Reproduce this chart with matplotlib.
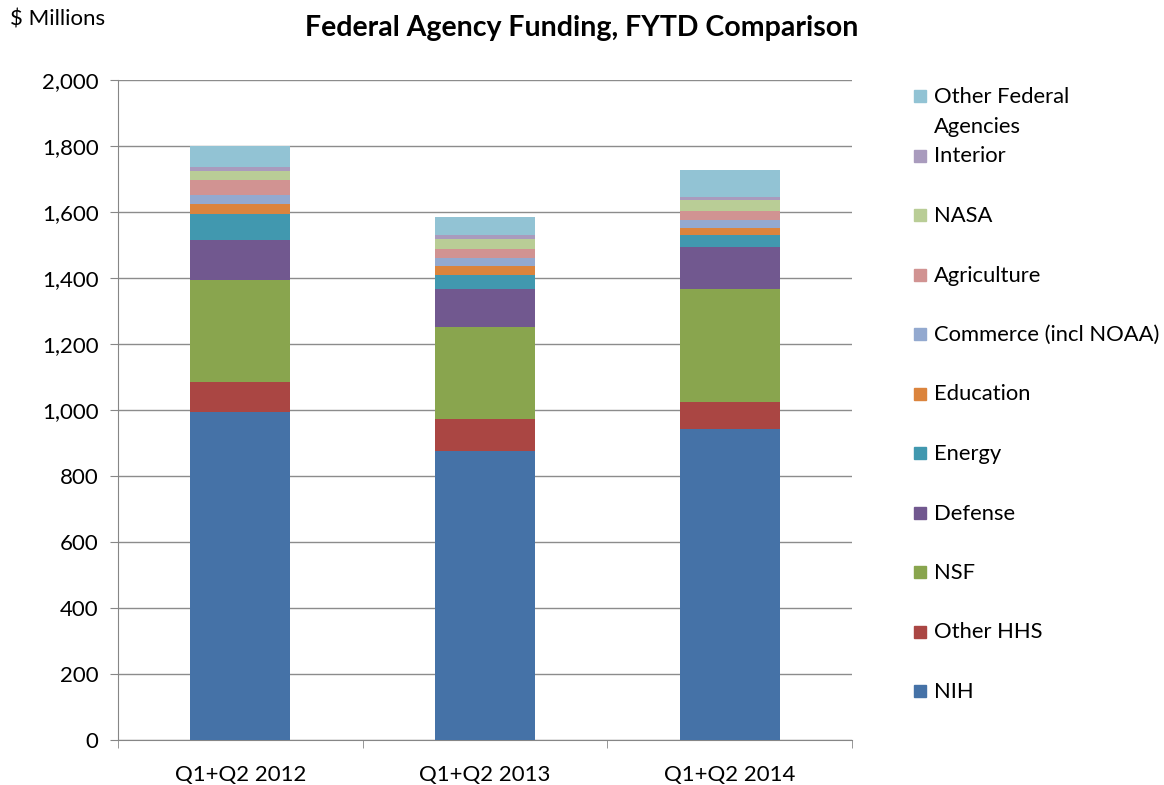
import matplotlib
matplotlib.use('Agg')
import matplotlib.pyplot as plt
from matplotlib.patches import Rectangle
import numpy as np

plt.rcParams['font.family'] = ['Lato', 'DejaVu Sans']

categories = ['Q1+Q2 2012', 'Q1+Q2 2013', 'Q1+Q2 2014']
agencies = ['NIH', 'Other HHS', 'NSF', 'Defense', 'Energy', 'Education',
            'Commerce (incl NOAA)', 'Agriculture', 'NASA', 'Interior',
            'Other Federal\nAgencies']
nih = [995, 876, 942]
other_hhs = [90, 97, 82]
nsf = [308, 280, 342]
defense = [121, 113, 127]
energy = [79, 43, 37]
education = [31, 28, 22]
commerce = [27, 23, 23]
agriculture = [47, 28, 27]
nasa = [26, 30, 33]
interior = [13, 13, 10]
other_fed = [63, 53, 81]
series = [nih, other_hhs, nsf, defense, energy, education, commerce,
          agriculture, nasa, interior, other_fed]
colors = ['#4572A7', '#AA4643', '#89A54E', '#71588F', '#4198AF', '#DB843D',
          '#93A9CF', '#D19392', '#B9CD96', '#A99BBD', '#92C3D4']

fig = plt.figure(figsize=(11.64, 7.85), dpi=100)
W, H = 1164, 785
ax = fig.add_axes([118 / W, 1 - 740 / H, (852 - 118) / W, (740 - 80) / H])

x = np.arange(len(categories))
bottom = np.zeros(len(categories))
for vals, col in zip(series, colors):
    ax.bar(x, vals, width=0.41, bottom=bottom, color=col, zorder=3)
    bottom += np.array(vals)

ax.set_xlim(-0.5, 2.5)
ax.set_ylim(0, 2000)
ax.set_yticks(range(0, 2001, 200))
ax.set_yticklabels(['{:,}'.format(v) for v in range(0, 2001, 200)])
ax.set_xticks(x)
ax.set_xticklabels(categories)
ax.set_xticks([-0.5, 0.5, 1.5, 2.5], minor=True)
ax.tick_params(axis='x', which='major', length=0, pad=18, labelsize=16)
ax.tick_params(axis='x', which='minor', length=6, color='#868686', direction='out')
ax.tick_params(axis='y', length=6, color='#868686', labelsize=16, pad=8)
ax.grid(axis='y', color='#8c8c8c', linewidth=1, zorder=0)
for s in ['top', 'right']:
    ax.spines[s].set_visible(False)
for s in ['left', 'bottom']:
    ax.spines[s].set_color('#868686')

fig.text(582 / W, 1 - 28 / H, 'Federal Agency Funding, FYTD Comparison',
         ha='center', va='center', fontsize=20.5, fontweight='bold')
fig.text(10 / W, 1 - 20 / H, '$ Millions', ha='left', va='center', fontsize=16)

# legend, reversed order like the stack
y0 = 96
for i, (lab, col) in enumerate(zip(agencies[::-1], colors[::-1])):
    yc = y0 + i * 59.5
    fig.patches.append(Rectangle((914 / W, 1 - (yc + 6) / H), 12 / W, 12 / H,
                                 transform=fig.transFigure, color=col))
    fig.text(934 / W, 1 - (yc - 9) / H, lab, ha='left', va='top',
             fontsize=15.8, linespacing=1.6)

fig.savefig('out.png', dpi=100)
